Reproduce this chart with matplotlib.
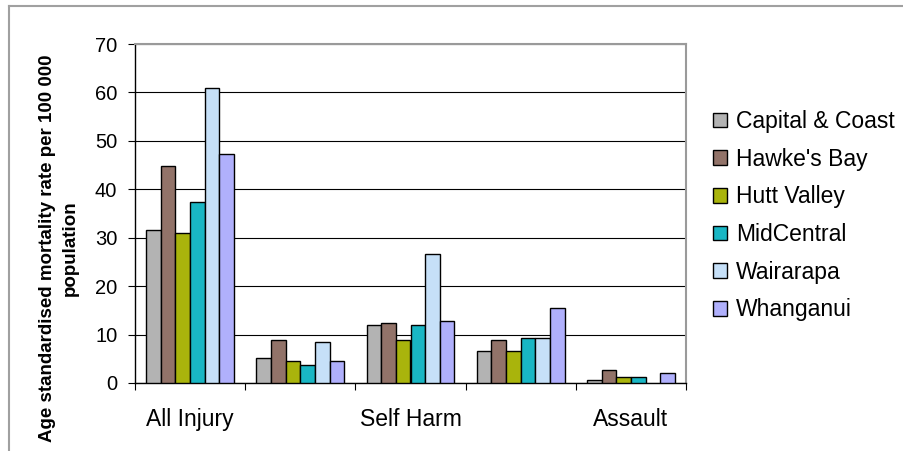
import numpy as np
import matplotlib
matplotlib.use("Agg")
import matplotlib.pyplot as plt
from matplotlib.lines import Line2D

################################################################################
# Data
################################################################################
# groups 2 and 4 carry no visible label in the original chart
categories = ["All Injury", "", "Self Harm", "", "Assault"]
shown_labels = ["All Injury", "Self Harm", "Assault"]

regions = ["Capital & Coast", "Hawke's Bay", "Hutt Valley",
           "MidCentral", "Wairarapa", "Whanganui"]

capital_coast = [31.6, 5.2, 12.0, 6.6, 0.6]
hawkes_bay = [44.8, 8.8, 12.3, 8.8, 2.7]
hutt_valley = [30.9, 4.5, 8.8, 6.6, 1.2]
midcentral = [37.3, 3.8, 12.0, 9.2, 1.2]
wairarapa = [61.0, 8.4, 26.6, 9.2, np.nan]
whanganui = [47.3, 4.5, 12.7, 15.5, 2.0]

series = [capital_coast, hawkes_bay, hutt_valley, midcentral, wairarapa, whanganui]
colors = ["#b3b3b3", "#927369", "#a9b40c", "#19b6c4", "#c6e0f8", "#b0b0fc"]

################################################################################
# Plot
################################################################################
plt.rcParams['font.family'] = ['Liberation Sans', 'DejaVu Sans']

W, H = 904, 451
fig = plt.figure(figsize=(W / 100, H / 100), dpi=100)
ax = fig.add_axes([135 / W, 1 - 383 / H, 551 / W, 339 / H])

x = np.arange(len(categories)) + 0.5
bw = 0.1325
for j, (vals, c, name) in enumerate(zip(series, colors, regions)):
    ax.bar(x + (j - 2.5) * bw, vals, bw, color=c, edgecolor="black",
           linewidth=1.0, label=name, zorder=3)

ax.set_xlim(0, len(categories))
ax.set_ylim(0, 70)
ax.set_yticks(np.arange(0, 71, 10))
ax.yaxis.grid(True, color="black", linewidth=0.8, zorder=0)
ax.tick_params(axis="y", direction="out", length=4.7, width=0.8,
               labelsize=14.5, pad=8)

# tick marks at group boundaries, labels at every other group centre
ax.set_xticks(np.arange(0, len(categories) + 1))
ax.set_xticklabels([])
ax.set_xticks(x[::2], minor=True)
ax.set_xticklabels(shown_labels, minor=True)
ax.tick_params(axis="x", which="major", direction="out", length=5, width=0.8)
ax.tick_params(axis="x", which="minor", length=0, labelsize=16.5, pad=18)

for s in ["top", "right"]:
    ax.spines[s].set_color("#9a9a9a")
    ax.spines[s].set_linewidth(1.5)
for s in ["left", "bottom"]:
    ax.spines[s].set_color("black")
    ax.spines[s].set_linewidth(1.0)

fig.text(59 / W, 1 - 248 / H,
         "Age standardised mortality rate per 100 000\npopulation",
         rotation=90, ha="center", va="center", multialignment="center",
         fontsize=13.5, fontweight="bold", linespacing=1.45)

leg = fig.legend(loc="upper left", bbox_to_anchor=(713 / W, 1 - 110 / H),
                 frameon=False, fontsize=16.5, handlelength=0.6,
                 handleheight=0.6, handletextpad=0.4, labelspacing=0.64,
                 borderpad=0, borderaxespad=0)

# outer chart border (only top and left visible)
fig.add_artist(Line2D([9 / W, 9 / W], [0, 1 - 6 / H], transform=fig.transFigure,
                      color="#a0a0a0", linewidth=1.5))
fig.add_artist(Line2D([9 / W, 1], [1 - 6 / H, 1 - 6 / H], transform=fig.transFigure,
                      color="#a0a0a0", linewidth=1.5))

fig.savefig("out.png", dpi=100)
